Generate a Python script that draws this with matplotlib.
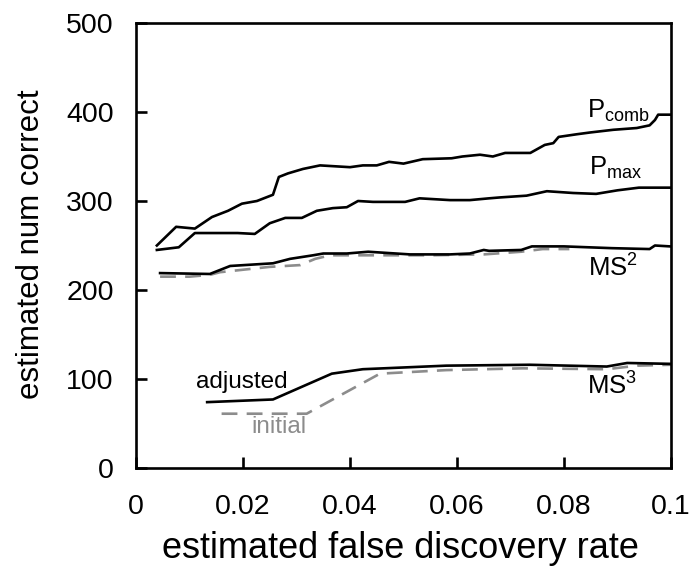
import matplotlib
matplotlib.use("Agg")
import matplotlib.pyplot as plt

plt.rcParams["font.family"] = ["Liberation Sans", "DejaVu Sans"]
plt.rcParams["mathtext.fontset"] = "custom"
plt.rcParams["mathtext.rm"] = "Liberation Sans"
plt.rcParams["mathtext.it"] = "Liberation Sans"

# estimated FDR vs. estimated number of correct identifications
pcomb_fdr = [0.0039, 0.0075, 0.0110, 0.0142, 0.0172, 0.0198, 0.0226, 0.0256, 0.0267,
             0.0284, 0.0312, 0.0344, 0.0400, 0.0424, 0.0450, 0.0473, 0.0500, 0.0536,
             0.0590, 0.0610, 0.0643, 0.0667, 0.0690, 0.0737, 0.0764, 0.0780, 0.0790,
             0.0824, 0.0849, 0.0892, 0.0936, 0.0960, 0.0970, 0.0976, 0.0998]
pcomb_num = [250, 271, 269, 282, 289, 297, 300, 307, 327,
             331, 336, 340, 338, 340, 340, 344, 342, 347,
             348, 350, 352, 350, 354, 354, 363, 365, 372,
             375, 377, 380, 382, 385, 391, 397, 397]

pmax_fdr = [0.0039, 0.0080, 0.0110, 0.0190, 0.0222, 0.0250, 0.0279, 0.0310, 0.0338,
            0.0368, 0.0394, 0.0415, 0.0443, 0.0503, 0.0530, 0.0587, 0.0624, 0.0660,
            0.0680, 0.0730, 0.0768, 0.0817, 0.0860, 0.0900, 0.0940, 0.0998]
pmax_num = [245, 248, 264, 264, 263, 275, 281, 281, 289,
            292, 293, 300, 299, 299, 303, 301, 301, 303,
            304, 306, 311, 309, 308, 312, 315, 315]

ms2_adj_fdr = [0.0045, 0.0138, 0.0176, 0.0256, 0.0288, 0.0331, 0.0350, 0.0394, 0.0434,
               0.0512, 0.0587, 0.0624, 0.0650, 0.0660, 0.0720, 0.0740, 0.0800, 0.0890,
               0.0960, 0.0970, 0.0998]
ms2_adj_num = [219, 218, 227, 230, 235, 239, 241, 241, 243,
               240, 240, 241, 245, 244, 245, 249, 249, 247,
               246, 250, 249]

ms2_init_fdr = [0.0045, 0.0100, 0.0138, 0.0157, 0.0250, 0.0307, 0.0335, 0.0363, 0.0450,
                0.0550, 0.0650, 0.0720, 0.0760, 0.0810]
ms2_init_num = [215, 215, 217, 220, 226, 228, 235, 239, 239,
                239, 240, 243, 246, 246]

ms3_adj_fdr = [0.0133, 0.0256, 0.0366, 0.0424, 0.0580, 0.0736, 0.0880, 0.0918, 0.1000]
ms3_adj_num = [74, 77, 106, 111, 115, 116, 114, 118, 117]

ms3_init_fdr = [0.0160, 0.0319, 0.0456, 0.0580, 0.0723, 0.0880, 0.0937, 0.1000]
ms3_init_num = [61, 61, 106, 110, 112, 111, 115, 116]

x_ticks = [0, 0.02, 0.04, 0.06, 0.08, 0.1]
x_tick_labels = ["0", "0.02", "0.04", "0.06", "0.08", "0.1"]
y_ticks = [0, 100, 200, 300, 400, 500]

gray = "#8c8c8c"

fig = plt.figure(figsize=(6.93, 5.66), dpi=100)
ax = fig.add_axes([136 / 693, 1 - 468 / 566, 535 / 693, 445 / 566])

solid = dict(color="black", lw=1.9, solid_joinstyle="round")
dashed = dict(color=gray, lw=1.9, dashes=(6, 3.5))

ax.plot(ms2_init_fdr, ms2_init_num, **dashed)
ax.plot(ms3_init_fdr, ms3_init_num, **dashed)
ax.plot(pcomb_fdr, pcomb_num, **solid)
ax.plot(pmax_fdr, pmax_num, **solid)
ax.plot(ms2_adj_fdr, ms2_adj_num, **solid)
ax.plot(ms3_adj_fdr, ms3_adj_num, **solid)

ax.set_xlim(0, 0.1)
ax.set_ylim(0, 500)
ax.set_xticks(x_ticks)
ax.set_xticklabels(x_tick_labels)
ax.set_yticks(y_ticks)

for side in ax.spines.values():
    side.set_linewidth(1.9)
ax.tick_params(axis="both", direction="in", length=8, width=1.9, labelsize=20.5)
ax.tick_params(axis="x", pad=19)
ax.tick_params(axis="y", pad=16)
ax.tick_params(top=False, right=False)

ax.set_xlabel("estimated false discovery rate", fontsize=26)
ax.set_ylabel("estimated num correct", fontsize=22.5)
ax.xaxis.set_label_coords(0.495, -0.202)
ax.xaxis.label.set_verticalalignment("baseline")
ax.yaxis.set_label_coords(-0.196, 0.502)
ax.yaxis.label.set_verticalalignment("center")

lab = dict(fontsize=18.5, ha="left", va="baseline")
ax.text(0.0843, 393, r"P$_{\mathrm{comb}}$", **lab)
ax.text(0.0847, 329, r"P$_{\mathrm{max}}$", **lab)
ax.text(0.0845, 215, r"MS$^{\mathrm{2}}$", **lab)
ax.text(0.0843, 83, r"MS$^{\mathrm{3}}$", **lab)
ax.text(0.0113, 90, "adjusted", fontsize=17.5, ha="left", va="baseline")
ax.text(0.0215, 39, "initial", fontsize=17.5, ha="left", va="baseline", color=gray)

fig.savefig("out.png", dpi=100)
